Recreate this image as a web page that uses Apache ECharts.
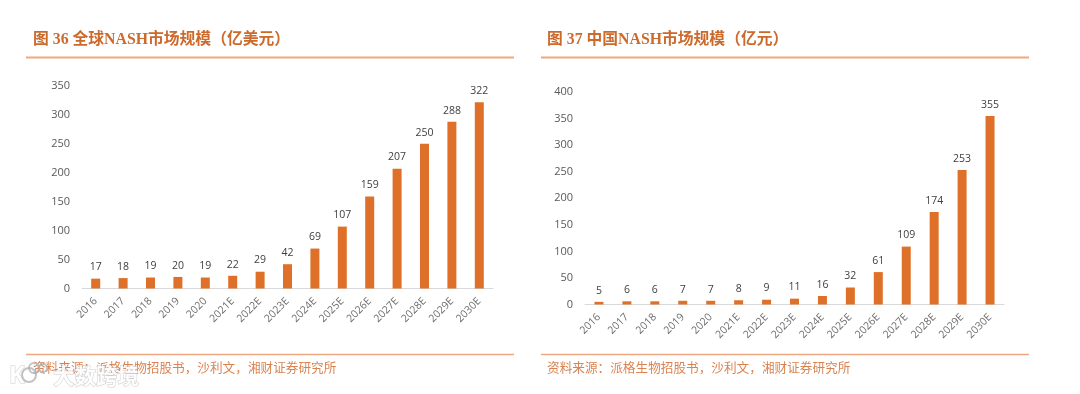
<!DOCTYPE html>
<html><head><meta charset="utf-8">
<style>html,body{margin:0;padding:0;background:#fff}#c{width:1080px;height:394px}</style>
<script src="https://cdn.jsdelivr.net/npm/echarts@6/dist/echarts.min.js"></script></head>
<body><div id="c"></div>
<script>
const categories=['2016','2017','2018','2019','2020','2021E','2022E','2023E','2024E','2025E','2026E','2027E','2028E','2029E','2030E'];
const globalValues=[17,18,19,20,19,22,29,42,69,107,159,207,250,288,322];
const chinaValues=[5,6,6,7,7,8,9,11,16,32,61,109,174,253,355];
const titleLeft='图 36 全球NASH市场规模（亿美元）';
const titleRight='图 37 中国NASH市场规模（亿元）';
const sourceText='资料来源：派格生物招股书，沙利文，湘财证券研究所';
const watermark='大数跨境';
const orange='#DE7029', textOrange='#DB8350', rule='#EFA77F', axisText='#6E6E6E';
const sans='"Open Sans","Noto Sans CJK SC",sans-serif';
const serif='"Liberation Serif","Noto Sans CJK SC",serif';
function xAxis(i){return{type:'category',gridIndex:i,data:categories,
 axisLine:{lineStyle:{color:'#D9D9D9',width:1}},axisTick:{show:false},
 axisLabel:{interval:0,rotate:45,color:axisText,fontSize:10.5,fontFamily:sans,margin:11}};}
function yAxis(i,max){return{type:'value',gridIndex:i,min:0,max:max,interval:50,
 axisLine:{show:false},axisTick:{show:false},splitLine:{show:false},
 axisLabel:{color:'#595959',fontSize:11,fontFamily:sans,margin:12}};}
function series(i,data){return{type:'bar',xAxisIndex:i,yAxisIndex:i,data:data,barWidth:9,
 itemStyle:{color:orange},
 label:{show:true,position:'top',distance:6,color:'#404040',fontSize:10.5,fontFamily:sans}};}
const chart=echarts.init(document.getElementById('c'),null,{renderer:'canvas'});
function t(x,y,text,size,weight,color,family){return{type:'text',x:x,y:y,z:5,
 style:{text:text,fontSize:size,fontWeight:weight,fill:color,fontFamily:family,textVerticalAlign:'middle'}};}
function line(x1,x2,y,w){return{type:'line',shape:{x1:x1,y1:y,x2:x2,y2:y},style:{stroke:rule,lineWidth:w}};}
function wm(extra){return Object.assign({fill:'rgba(255,255,255,0.92)',stroke:'rgba(170,170,170,0.6)',lineWidth:1,shadowBlur:3,shadowColor:'rgba(120,120,120,0.5)'},extra);}
chart.setOption({animation:false,
 grid:[{left:82,width:411,top:86,height:202.5},{left:585,width:419,top:92,height:212.5}],
 xAxis:[xAxis(0),xAxis(1)],
 yAxis:[yAxis(0,350),yAxis(1,400)],
 series:[series(0,globalValues),series(1,chinaValues)],
 graphic:[
  t(33,40,titleLeft,15.8,'bold','#CC6A2C',serif),
  t(547,40,titleRight,15.8,'bold','#CC6A2C',serif),
  line(26,514,57.5,2),line(541,1029,57.5,2),
  line(26,514,354.5,1.5),line(541,1029,354.5,1.5),
  t(33,369,sourceText,12.65,'normal',textOrange,serif),
  t(547,369,sourceText,12.65,'normal',textOrange,serif),
  {type:'text',x:53,y:378,z:6,style:wm({text:watermark,fontSize:21.5,fontWeight:'bold',fontFamily:sans,textVerticalAlign:'middle'})},
  {type:'text',x:9,y:376,z:6,style:wm({text:'K',fontSize:24,fontWeight:'bold',fontFamily:sans,textVerticalAlign:'middle'})},
  {type:'circle',z:6,shape:{cx:29,cy:375,r:7},style:{fill:'none',stroke:'rgba(175,175,175,0.75)',lineWidth:2}},
  {type:'circle',z:6,shape:{cx:34,cy:368,r:5},style:{fill:'none',stroke:'rgba(175,175,175,0.75)',lineWidth:2}},
  {type:'circle',z:6,shape:{cx:43,cy:368,r:4},style:{fill:'none',stroke:'rgba(175,175,175,0.75)',lineWidth:2}}
 ]});
</script></body></html>
